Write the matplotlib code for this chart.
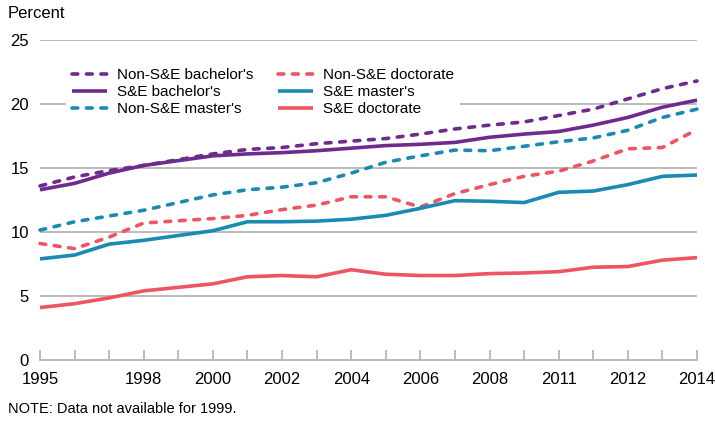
import matplotlib
matplotlib.use('Agg')
import matplotlib.pyplot as plt

plt.rcParams['font.family'] = ['Liberation Sans', 'DejaVu Sans']

# no data for 1999
years = [1995, 1996, 1997, 1998, 2000, 2001, 2002, 2003, 2004, 2005,
         2006, 2007, 2008, 2009, 2010, 2011, 2012, 2013, 2014]

non_se_bachelors = [13.6, 14.3, 14.8, 15.2, 16.1, 16.45, 16.6, 16.9, 17.1, 17.3,
                    17.65, 18.05, 18.35, 18.6, 19.1, 19.6, 20.4, 21.2, 21.8]
se_bachelors = [13.3, 13.8, 14.6, 15.2, 15.95, 16.1, 16.2, 16.35, 16.55, 16.75,
                16.85, 17.0, 17.4, 17.65, 17.85, 18.35, 18.95, 19.75, 20.3]
non_se_masters = [10.15, 10.8, 11.25, 11.7, 12.9, 13.3, 13.5, 13.85, 14.6, 15.45,
                  15.95, 16.4, 16.35, 16.7, 17.05, 17.35, 17.95, 18.95, 19.6]
non_se_doctorate = [9.1, 8.7, 9.6, 10.7, 11.05, 11.3, 11.75, 12.1, 12.75, 12.75,
                    11.95, 13.0, 13.7, 14.35, 14.75, 15.55, 16.5, 16.6, 18.0]
se_masters = [7.9, 8.2, 9.05, 9.35, 10.1, 10.8, 10.8, 10.85, 11.0, 11.3,
              11.85, 12.45, 12.4, 12.3, 13.1, 13.2, 13.7, 14.35, 14.45]
se_doctorate = [4.1, 4.4, 4.85, 5.4, 5.95, 6.5, 6.6, 6.5, 7.05, 6.7,
                6.6, 6.6, 6.75, 6.8, 6.9, 7.25, 7.3, 7.8, 8.0]

tick_years = [1995, 1998, 2000, 2002, 2004, 2006, 2008, 2010, 2012, 2014]
tick_labels = ['1995', '1998', '2000', '2002', '2004', '2006', '2008', '2011', '2012', '2014']

purple = '#6e2a8d'
blue = '#1a8ab2'
red = '#ee5461'
grid = '#b5b5b5'

fig = plt.figure(figsize=(7.15, 4.24), dpi=100)
ax = fig.add_axes([40 / 715, 1 - 360 / 424, 657 / 715, 320 / 424])

lw = 2.6
dash = dict(linestyle=(0, (1.6, 2.4)), dash_capstyle='round')
series = [
    (non_se_bachelors, purple, True, "Non-S&E bachelor's"),
    (se_bachelors, purple, False, "S&E bachelor's"),
    (non_se_masters, blue, True, "Non-S&E master's"),
    (non_se_doctorate, red, True, 'Non-S&E doctorate'),
    (se_masters, blue, False, "S&E master's"),
    (se_doctorate, red, False, 'S&E doctorate'),
]
for vals, col, dashed, name in series:
    if dashed:
        ax.plot(years, vals, color=col, lw=lw, label=name, clip_on=False,
                zorder=3, **dash)
    else:
        ax.plot(years, vals, color=col, lw=lw, label=name, clip_on=False,
                zorder=3, solid_capstyle='butt')

ax.set_xlim(1995, 2014)
ax.set_ylim(0, 25)
ax.set_yticks([0, 5, 10, 15, 20, 25])
for v in [5, 10, 15, 20, 25]:
    ax.axhline(v, color=grid, lw=1.3, zorder=0)

ax.set_xticks(range(1995, 2015))
ax.set_xticklabels(['' if y not in tick_years else tick_labels[tick_years.index(y)]
                    for y in range(1995, 2015)])
ax.tick_params(axis='x', direction='in', length=7, width=1.3, color=grid,
               labelsize=12, pad=9)
ax.tick_params(axis='y', length=0, labelsize=12, pad=8)

for s in ['top', 'right', 'left']:
    ax.spines[s].set_visible(False)
ax.spines['bottom'].set_color(grid)
ax.spines['bottom'].set_linewidth(1.3)

leg = ax.legend(loc='upper left', bbox_to_anchor=(0.028, 0.955), ncol=2,
                frameon=True, fontsize=11, handlelength=2.3,
                handletextpad=0.65, columnspacing=1.6, labelspacing=0.2,
                borderpad=0.4)
leg.get_frame().set_facecolor('white')
leg.get_frame().set_edgecolor('none')
leg.get_frame().set_alpha(1)
leg.set_zorder(1)

fig.text(8 / 715, 1 - 14 / 424, 'Percent', fontsize=12, va='center', ha='left')
fig.text(8 / 715, 1 - 409 / 424, 'NOTE: Data not available for 1999.',
         fontsize=10.5, va='center', ha='left')

fig.savefig('out.png', dpi=100)
